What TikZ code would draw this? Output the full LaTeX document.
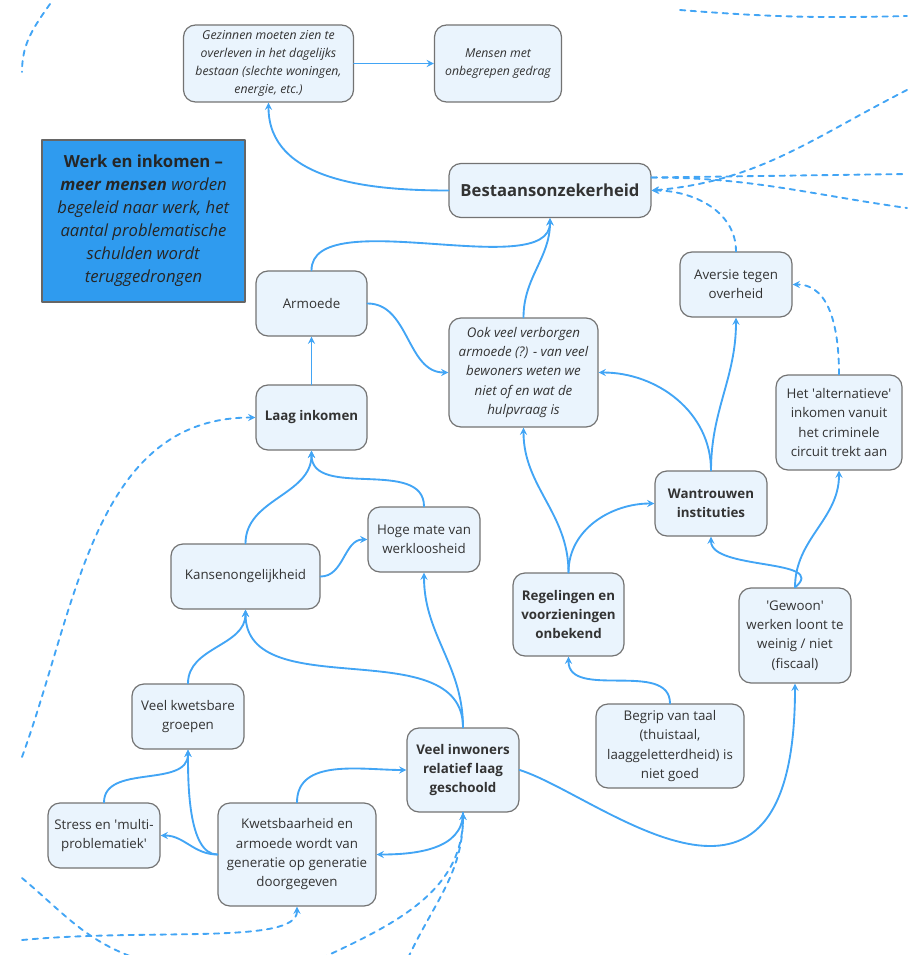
\documentclass[tikz,border=0pt]{standalone}
\usepackage{fontspec}
\setmainfont{Open Sans}
\definecolor{lijnblauw}{HTML}{42A5F5}
\definecolor{vakblauw}{HTML}{EAF4FD}
\definecolor{randgrijs}{HTML}{737373}
\definecolor{titelblauw}{HTML}{2F9BEF}
\definecolor{tekstgrijs}{HTML}{333333}
\tikzset{
	vak/.style={draw=randgrijs, line width=0.9pt, fill=vakblauw, rounded corners=9pt, align=center, text=tekstgrijs, inner sep=0pt},
	pijl/.style={->, draw=lijnblauw, line width=1.4pt},
	stippel/.style={pijl, dash pattern=on 4pt off 4pt},
}
\begin{document}
\begin{tikzpicture}[x=0.75pt, y=0.75pt, font=\fontsize{10}{14.5}\selectfont, line join=round, line cap=round, >=stealth]
	\useasboundingbox (0,0) rectangle (907,-955);
	% vakken, middelpunt in px
	\node[vak, minimum width=127.5pt, minimum height=57.75pt, font=\fontsize{9.2}{13.5}\selectfont\itshape] (gezinnen) at (268.5,-63.5) {Gezinnen moeten zien te\\overleven in het dagelijks\\bestaan (slechte woningen,\\energie, etc.)};
	\node[vak, minimum width=95.25pt, minimum height=57.75pt, font=\fontsize{9.2}{13.5}\selectfont\itshape] (mensen) at (498,-63.5) {Mensen met\\onbegrepen gedrag};
	\node[draw=black!60, line width=0.9pt, fill=titelblauw, text=black!85, align=center, inner sep=0pt, minimum width=152.25pt, minimum height=121.5pt, font=\fontsize{12.5}{17.25}\selectfont] (titel) at (143.5,-221) {\textbf{Werk en inkomen –}\\\textit{\textbf{meer mensen} worden}\\\textit{begeleid naar werk, het}\\\textit{aantal problematische}\\\textit{schulden wordt}\\\textit{teruggedrongen}};
	\node[vak, minimum width=151.5pt, minimum height=40.5pt, font=\fontsize{12.5}{16}\selectfont\bfseries] (bestaan) at (550,-190.5) {Bestaansonzekerheid};
	\node[vak, minimum width=83.25pt, minimum height=48.75pt] (armoede) at (311.5,-303.5) {Armoede};
	\node[vak, minimum width=111.75pt, minimum height=81.75pt, font=\fontsize{10}{14.5}\selectfont\itshape] (verborgen) at (523.5,-372.5) {Ook veel verborgen\\armoede (?) - van veel\\bewoners weten we\\niet of en wat de\\hulpvraag is};
	\node[vak, minimum width=84pt, minimum height=48.75pt] (aversie) at (736,-284.5) {Aversie tegen\\overheid};
	\node[vak, minimum width=94.5pt, minimum height=71.25pt] (alternatief) at (839,-422.5) {Het \textquotesingle alternatieve\textquotesingle\\inkomen vanuit\\het criminele\\circuit trekt aan};
	\node[vak, minimum width=83.25pt, minimum height=48.75pt, font=\fontsize{10}{14.5}\selectfont\bfseries] (laag) at (311.5,-417.5) {Laag inkomen};
	\node[vak, minimum width=84pt, minimum height=48.75pt, font=\fontsize{10}{14.5}\selectfont\bfseries] (wantrouwen) at (711,-503.5) {Wantrouwen\\instituties};
	\node[vak, minimum width=84pt, minimum height=48.75pt] (werkloos) at (424,-539.5) {Hoge mate van\\werkloosheid};
	\node[vak, minimum width=111.75pt, minimum height=48.75pt] (kansen) at (245.5,-576.5) {Kansenongelijkheid};
	\node[vak, minimum width=83.25pt, minimum height=62.25pt, font=\fontsize{10}{14.5}\selectfont\bfseries] (regelingen) at (568.5,-614.5) {Regelingen en\\voorzieningen\\onbekend};
	\node[vak, minimum width=84pt, minimum height=71.25pt] (gewoon) at (795,-635.5) {\textquotesingle Gewoon\textquotesingle\\werken loont te\\weinig / niet\\(fiscaal)};
	\node[vak, minimum width=84pt, minimum height=48.75pt] (kwetsbaar) at (188,-716.5) {Veel kwetsbare\\groepen};
	\node[vak, minimum width=111pt, minimum height=63pt] (taal) at (670,-746) {Begrip van taal\\(thuistaal,\\laaggeletterdheid) is\\niet goed};
	\node[vak, minimum width=84pt, minimum height=63pt, font=\fontsize{10}{14.5}\selectfont\bfseries] (laaggeschoold) at (463,-770) {Veel inwoners\\relatief laag\\geschoold};
	\node[vak, minimum width=84pt, minimum height=48.75pt] (stress) at (104,-835.5) {Stress en \textquotesingle multi-\\problematiek\textquotesingle};
	\node[vak, minimum width=118.5pt, minimum height=77.25pt] (generatie) at (297,-854.5) {Kwetsbaarheid en\\armoede wordt van\\generatie op generatie\\doorgegeven};
	% losse eindpunten
	\coordinate (rechtsboven) at (907,-90);
	\coordinate (rechtsmidden) at (907,-174);
	\coordinate (rechtsonder) at (907,-208);
	\coordinate (linksmidden) at (22,-757);
	\coordinate (linksonder) at (22,-940);
	\coordinate (onder1) at (322,-958);
	\coordinate (onder2) at (408,-958);
	% pijlen
	\draw[pijl] (gezinnen) -- (mensen);
	\draw[pijl] (bestaan.west) to[out=180,in=-90] (gezinnen.south);
	\draw[pijl] (armoede.north) .. controls +(0,68) and +(0,-65) .. (bestaan.south);
	\draw[pijl] (verborgen.north) to[out=90,in=-90] (bestaan.south);
	\draw[pijl] (armoede.east) to[out=0,in=180] (verborgen.west);
	\draw[pijl] (laag) -- (armoede);
	\draw[pijl] (kansen.north) to[out=90,in=-90] (laag.south);
	\draw[pijl] (werkloos.north) to[out=90,in=-90] (laag.south);
	\draw[pijl] (kansen.east) to[out=0,in=180] (werkloos.west);
	\draw[pijl] (laaggeschoold.north) to[out=90,in=-90] (werkloos.south);
	\draw[pijl] (laaggeschoold.north) to[out=90,in=-90] (kansen.south);
	\draw[pijl] (kwetsbaar.north) to[out=90,in=-90] (kansen.south);
	\draw[pijl] (stress.north) to[out=90,in=-90] (kwetsbaar.south);
	\draw[pijl] (generatie.west) to[out=180,in=-90,looseness=0.7] (kwetsbaar.south);
	\draw[pijl] (generatie.west) to[out=180,in=0] (stress.east);
	\draw[pijl] (generatie.north) to[out=90,in=180] (laaggeschoold.west);
	\draw[pijl] (laaggeschoold.south) to[out=-90,in=0] (generatie.east);
	\draw[pijl] (laaggeschoold.east) .. controls +(80,-25) and +(0,-285) .. (gewoon.south);
	\draw[pijl] (regelingen.north) to[out=90,in=-90] (verborgen.south);
	\draw[pijl] (regelingen.north) to[out=90,in=180] (wantrouwen.west);
	\draw[pijl] (wantrouwen.north) to[out=90,in=0] (verborgen.east);
	\draw[pijl] (wantrouwen.north) to[out=90,in=-90] (aversie.south);
	\draw[pijl] (gewoon.north) .. controls +(35,29) and +(0,-34) .. (wantrouwen.south);
	\draw[pijl] (gewoon.north) to[out=90,in=-90] (alternatief.south);
	\draw[pijl] (taal.north) to[out=90,in=-90] (regelingen.south);
	% gestippeld
	\draw[stippel] (aversie.north) to[out=90,in=0] (bestaan.east);
	\draw[stippel] (alternatief.north) to[out=90,in=0] (aversie.east);
	\draw[stippel] (rechtsboven) to[out=207,in=5] (bestaan.east);
	\draw[stippel, -] ([yshift=9.75pt]bestaan.east) -- (rechtsmidden);
	\draw[stippel, -] ([yshift=9.75pt]bestaan.east) to[out=0,in=172] (rechtsonder);
	\draw[stippel, -] (680,-10) to[bend right=3] (907,-16);
	\draw[stippel, -] (50,-4) to[out=235,in=90] (22,-72);
	\draw[stippel] (linksmidden) to[out=70,in=180] (laag.west);
	\draw[stippel] (linksonder) .. controls (150,-928) and (297,-945) .. (generatie.south);
	\draw[stippel, -] (22,-878) to[out=-40,in=160] (135,-958);
	\draw[stippel] (onder1) to[out=25,in=-90] (laaggeschoold.south);
	\draw[stippel] (onder2) to[out=65,in=-90] (laaggeschoold.south);
\end{tikzpicture}
\end{document}
